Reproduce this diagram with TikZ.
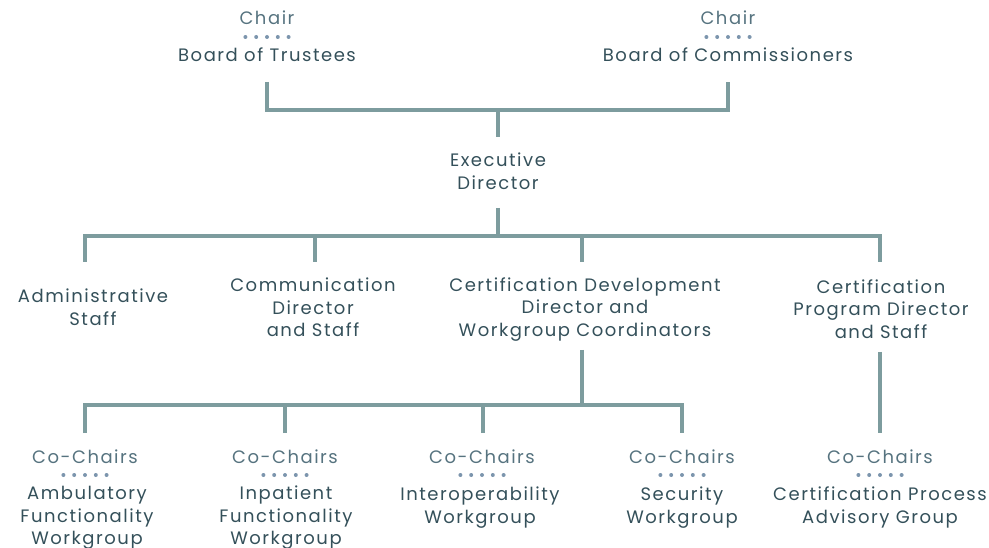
\documentclass[tikz,border=0pt]{standalone}
\usepackage{fontspec}
\setmainfont[LetterSpace=8.5]{Poppins}
\usetikzlibrary{calc,positioning}
\definecolor{linkgray}{HTML}{7D9C9E}
\definecolor{darktext}{HTML}{34505A}
\definecolor{softtext}{HTML}{56737F}
\definecolor{dotblue}{HTML}{7C95AD}
\tikzset{
    unit/.style={
           align=center,
           inner sep=0pt,
           text=darktext,
           font=\fontsize{18}{22.5}\selectfont},
    chairs/.style={
           unit,
           text=softtext},
    link/.style={
           draw=linkgray,
           line width=3.6pt},
    dot/.style={
           circle,
           fill=dotblue,
           inner sep=0pt,
           minimum size=4pt}
}
\newcommand{\dotrow}[3]{\foreach \k in {1,...,5} \node[dot] (#1\k) at ($(#2,#3)+(\k*10.8-32.4,0)$) {};}

\begin{document}
\begin{tikzpicture}[x=1pt, y=-1pt]
        \useasboundingbox (0,0) rectangle (989,548);
        % boards
        \node[chairs] (chairT) at (267,18) {Chair};
        \dotrow{dT}{267}{37}
        \node[unit] (trustees) at (267,55) {Board of Trustees};
        \node[chairs] (chairC) at (728,18) {Chair};
        \dotrow{dC}{728}{37}
        \node[unit] (commiss) at (728,55) {Board of Commissioners};
        \node[unit] (exec) at (498,171) {Executive\\Director};
        % staff
        \node[unit] (admin) at (93,307) {Administrative\\Staff};
        \node[unit] (comm) at (313,307.5) {Communication\\Director\\and Staff};
        \node[unit] (certdev) at (585,309.5) {Certification Development\\Director and\\Workgroup Coordinators};
        \node[unit] (certprog) at (881,309) {Certification\\Program Director\\and Staff};
        % workgroups
        \node[chairs] (coA) at (85,457) {Co-Chairs};
        \node[chairs] (coI) at (285,457) {Co-Chairs};
        \node[chairs] (coO) at (482,457) {Co-Chairs};
        \node[chairs] (coS) at (682,457) {Co-Chairs};
        \node[chairs] (coP) at (880,457) {Co-Chairs};
        \dotrow{dA}{85}{475}
        \dotrow{dI}{285}{475}
        \dotrow{dO}{482}{475}
        \dotrow{dS}{682}{475}
        \dotrow{dP}{880}{475}
        \node[unit] (amb) at (87,518) {Ambulatory\\Functionality\\Workgroup};
        \node[unit] (inp) at (286,518) {Inpatient\\Functionality\\Workgroup};
        \node[unit] (inter) at (480,507.5) {Interoperability\\Workgroup};
        \node[unit] (sec) at (682,507.5) {Security\\Workgroup};
        \node[unit] (cpag) at (880,507.5) {Certification Process\\Advisory Group};

        \coordinate (bt-foot) at (267,82);
        \coordinate (bc-foot) at (728,82);
        \coordinate (top-hub) at (498,110);
        \coordinate (ed-head) at (498,137);
        \coordinate (ed-foot) at (498,208);
        \coordinate (mid-hub) at (498,236);
        \coordinate (as-head) at (85,262);
        \coordinate (cd-head) at (315,262);
        \coordinate (dev-head) at (582,262);
        \coordinate (prog-head) at (880,262);
        \coordinate (dev-foot) at (582,350);
        \coordinate (low-hub) at (582,405);
        \coordinate (amb-head) at (85,433);
        \coordinate (inp-head) at (285,433);
        \coordinate (int-head) at (483,433);
        \coordinate (sec-head) at (682,433);
        \coordinate (prog-foot) at (880,352);
        \coordinate (cpag-head) at (880,433);

        \draw[link] (bt-foot) |- (top-hub) -| (bc-foot);
        \draw[link] (top-hub) -- (ed-head);
        \draw[link] (ed-foot) -- (mid-hub);
        \draw[link] (as-head) |- (mid-hub) -| (prog-head);
        \draw[link] (cd-head) -- (cd-head |- mid-hub);
        \draw[link] (dev-head) -- (dev-head |- mid-hub);
        \draw[link] (dev-foot) -- (low-hub);
        \draw[link] (amb-head) |- (low-hub) -| (sec-head);
        \draw[link] (inp-head) -- (inp-head |- low-hub);
        \draw[link] (int-head) -- (int-head |- low-hub);
        \draw[link] (prog-foot) -- (cpag-head);
\end{tikzpicture}
\end{document}
